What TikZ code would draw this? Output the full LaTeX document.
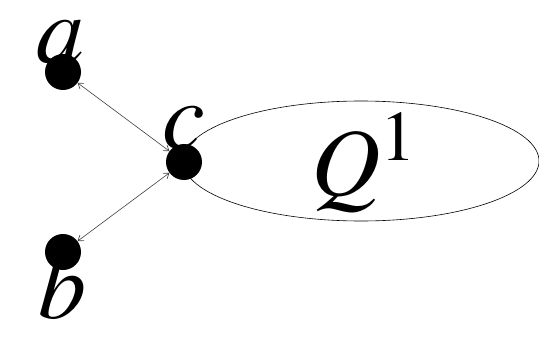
\documentclass[tikz,border=0pt]{standalone}
\usepackage{mathptmx}
\usetikzlibrary{arrows.meta}

\tikzset{
  dot/.style={circle,fill=black,inner sep=0pt,minimum size=36pt},
  lbl/.style={anchor=base,inner sep=0pt,font=\fontsize{96}{96}\selectfont},
  link/.style={{Straight Barb[length=5pt,width=7pt]}-{Straight Barb[length=5pt,width=7pt]},line width=0.6pt,black!75}
}

\begin{document}
\begin{tikzpicture}[x=1pt,y=-1pt]
\useasboundingbox (0,0) rectangle (539,343);
\node[dot] (a) at (63,72) {};
\node[dot] (b) at (63,252) {};
\node[dot] (c) at (184,162) {};
\draw[line width=0.6pt] (361,161) ellipse [x radius=178,y radius=60];
\node[lbl] (la) at (61,62) {$a$};
\node[lbl] (lb) at (62,318) {$b$};
\node[lbl] (lc) at (184,148) {$c$};
\node[lbl] (q) at (364,195) {$Q^1$};
\draw[link] (c) -- (a);
\draw[link] (c) -- (b);
\end{tikzpicture}
\end{document}
